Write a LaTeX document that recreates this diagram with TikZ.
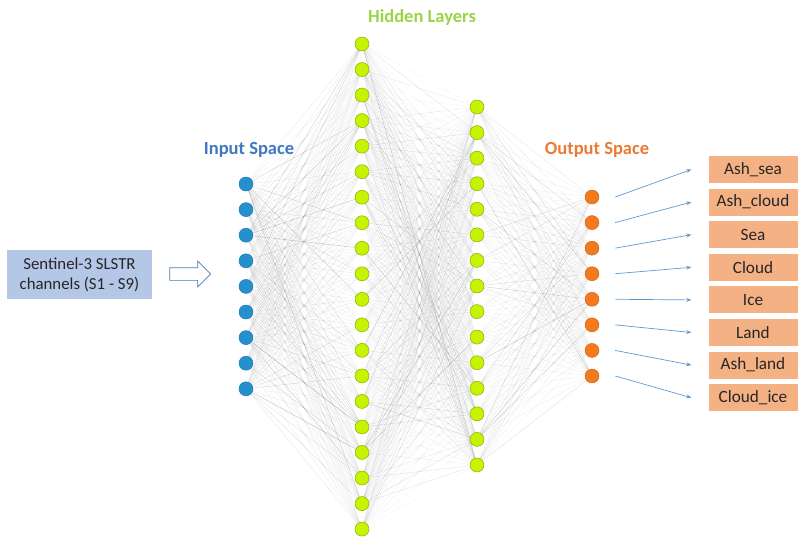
\documentclass[tikz,border=0pt]{standalone}
\usepackage{fontspec}
\setmainfont{Carlito}
\usetikzlibrary{shapes.arrows,backgrounds,arrows.meta}
\definecolor{inblue}{HTML}{2490CC}
\definecolor{hidgreen}{HTML}{C6F400}
\definecolor{outorange}{HTML}{F47A20}
\definecolor{labblue}{HTML}{3F78BF}
\definecolor{labgreen}{HTML}{9BD444}
\definecolor{laborange}{HTML}{E97B32}
\definecolor{boxblue}{HTML}{B4C7E7}
\definecolor{boxorange}{HTML}{F4B183}
\definecolor{arrowblue}{HTML}{5B9BD5}

\begin{document}
\begin{tikzpicture}[x=1pt,y=-1pt,
  neuron/.style={draw,shape=circle,minimum size=14pt,inner sep=0pt,line width=0.5pt},
  layertitle/.style={font=\fontsize{18.5}{20}\selectfont\bfseries},
  classbox/.style={fill=boxorange,minimum width=89pt,minimum height=27pt,inner sep=0pt,
    text=black!85,font=\fontsize{17.2}{20}\selectfont},
  link/.style={draw=gray,line width=0.45pt},
  outarrow/.style={draw=arrowblue,line width=0.7pt,-{Stealth[length=5pt,width=4pt]}}]
\useasboundingbox (0,0) rectangle (799,539);

% layer titles
\node[layertitle,text=labblue] (intitle) at (249,150) {Input Space};
\node[layertitle,text=labgreen] (hidtitle) at (422,17) {Hidden Layers};
\node[layertitle,text=laborange] (outtitle) at (597,150) {Output Space};

% neurons
\foreach \k in {1,...,9}
  \node[neuron,fill=inblue,draw=inblue!85!black] (i\k) at (246,{184+25.6*(\k-1)}) {};
\foreach \k in {1,...,20}
  \node[neuron,fill=hidgreen,draw=hidgreen!70!black] (a\k) at (362,{44+25.53*(\k-1)}) {};
\foreach \k in {1,...,15}
  \node[neuron,fill=hidgreen,draw=hidgreen!70!black] (b\k) at (477,{107+25.57*(\k-1)}) {};
\foreach \k in {1,...,8}
  \node[neuron,fill=outorange,draw=outorange!85!black] (o\k) at (592,{197+25.57*(\k-1)}) {};

% connections
\pgfmathsetseed{4711}
\begin{scope}[on background layer]
\foreach \j in {1,...,9}
  \foreach \k in {1,...,20}{
    \pgfmathsetmacro\op{0.1+0.55*rnd*rnd*rnd}
    \draw[link,draw opacity=\op] (i\j) -- (a\k);
  }
\foreach \j in {1,...,20}
  \foreach \k in {1,...,15}{
    \pgfmathsetmacro\op{0.08+0.55*rnd*rnd*rnd}
    \draw[link,draw opacity=\op] (a\j) -- (b\k);
  }
\foreach \j in {1,...,15}
  \foreach \k in {1,...,8}{
    \pgfmathsetmacro\op{0.1+0.55*rnd*rnd*rnd}
    \draw[link,draw opacity=\op] (b\j) -- (o\k);
  }
\end{scope}

% input box and feed arrow
\node[fill=boxblue,minimum width=145pt,minimum height=49pt,align=center,text=black!85,
  font=\fontsize{16.8}{20}\selectfont] (sensor) at (79.5,274.5) {Sentinel-3 SLSTR\\channels (S1 - S9)};
\node[single arrow,draw=arrowblue!80!black,fill=white,line width=0.7pt,minimum height=41pt,
  minimum width=25pt,inner xsep=0pt,inner ysep=6pt,text height=0pt,text depth=0pt,
  single arrow head extend=6.5pt] (feed) at (187,274) {};

% output classes
\foreach \name [count=\k] in {Ash\_sea,Ash\_cloud,Sea,Cloud,Ice,Land,Ash\_land,Cloud\_ice}{
  \node[classbox] (c\k) at (753,{169.5+32.6*(\k-1)}) {\name};
  \draw[outarrow] ([xshift=16pt]o\k.east) -- ([xshift=-17pt]c\k.west);
}
\end{tikzpicture}
\end{document}
